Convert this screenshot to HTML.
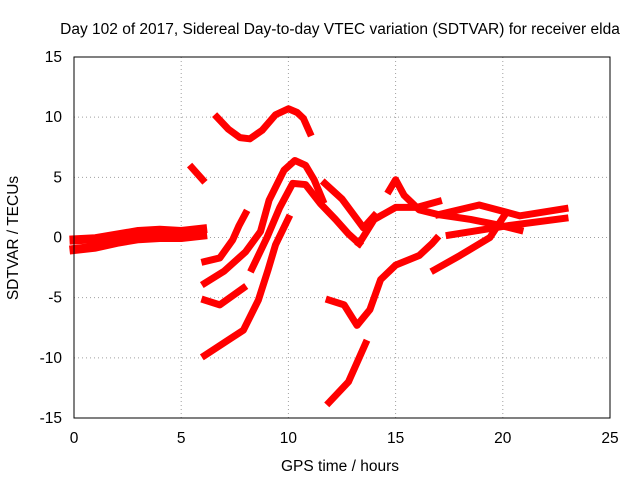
<!DOCTYPE html>
<html><head><meta charset="utf-8"><style>
body{margin:0;background:#fff}
text{font-family:"Liberation Sans",sans-serif;font-size:15.5px;fill:#000}
</style></head><body>
<svg id="chart" width="640" height="480">
<text x="340" y="34" text-anchor="middle">Day 102 of 2017, Sidereal Day-to-day VTEC variation (SDTVAR) for receiver elda</text>
<text x="340" y="471" text-anchor="middle">GPS time / hours</text>
<text transform="translate(18,238) rotate(-90)" text-anchor="middle">SDTVAR / TECUs</text>
<g id="grid"></g><g id="ticks"></g><g id="series"></g>
<rect x="74" y="57" width="536" height="361" fill="none" stroke="#000"/>
</svg>
<script>
const xTicks=[0,5,10,15,20,25];
const yTicks=[-15,-10,-5,0,5,10,15];
const trackA1=[[0,-0.2],[1,-0.1],[2,0.2],[3,0.5],[4,0.6],[5,0.5],[6,0.7]];
const trackA2=[[0,-1],[1,-0.8],[2,-0.4],[3,-0.1],[4,0],[5,0],[6,0.2]];
const trackB=[[5.5,5.8],[6.0,4.8]];
const trackC=[[6.67,10.0],[7.2,9.0],[7.74,8.3],[8.2,8.2],[8.77,8.9],[9.4,10.2],[10,10.7],[10.4,10.4],[10.7,9.9],[11,8.7]];
const trackD=[[6.1,-2.0],[6.8,-1.7],[7.4,-0.2],[7.7,1.0],[8,2.0]];
const trackE=[[6.1,-3.8],[7,-2.8],[8,-1.2],[8.7,0.5],[9.1,3.1],[9.8,5.6],[10.3,6.4],[10.8,6.0],[11.2,4.8],[11.6,3.1]];
const trackF=[[6.1,-5.2],[6.8,-5.6],[7.9,-4.2]];
const trackG=[[6.1,-9.8],[7.3,-8.4],[7.9,-7.7],[8.6,-5.2],[9.05,-2.7],[9.4,-0.6],[10,1.6]];
const trackH=[[8.3,-2.6],[9,0],[9.6,2.5],[10.2,4.5],[10.8,4.4],[11.5,2.8],[12.2,1.5],[12.8,0.3],[13.3,-0.5]];
const trackI=[[11.9,-5.2],[12.6,-5.6],[13.2,-7.3],[13.8,-6],[14.3,-3.5],[15,-2.3],[16.1,-1.5],[16.7,-0.5],[16.9,-0.1]];
const trackJ=[[11.9,-13.7],[12.8,-12],[13.6,-8.8]];
const trackK=[[13.3,-0.5],[14,1.5],[15,2.5],[16,2.5],[17,3.0]];
const trackL=[[14.7,3.9],[15,4.8],[15.4,3.5],[16.1,2.3],[17,1.9],[18.5,1.5],[19.9,1.0],[20.8,0.6]];
const trackM=[[16.8,-2.7],[18,-1.5],[19.4,0],[20.1,1.9]];
const trackN=[[17.5,0.2],[18.9,0.6],[20.3,1.0],[22.9,1.6]];
const trackO=[[17,1.9],[18.9,2.7],[20.8,1.8],[22.9,2.4]];
const trackP=[[11.7,4.5],[12.5,3.2],[13,2.0],[13.5,0.8],[14,1.8]];
const tracks=[trackA1,trackA2,trackB,trackC,trackD,trackE,trackF,trackG,trackH,trackI,trackJ,trackK,trackL,trackM,trackN,trackO,trackP];
const X=t=>74+t*536/25, Y=v=>237.5-v*361/30;
const ns="http://www.w3.org/2000/svg";
const grid=document.getElementById('grid'),tk=document.getElementById('ticks'),sr=document.getElementById('series');
function mk(tag,attrs,parent){const e=document.createElementNS(ns,tag);for(const k in attrs)e.setAttribute(k,attrs[k]);parent.appendChild(e);return e;}
xTicks.forEach(t=>{
 const l=mk('line',{x1:X(t),x2:X(t),y1:57,y2:418,stroke:'#a0a0a0','stroke-dasharray':'1,3'},grid);
 
 
 const s=mk('text',{x:X(t),y:443,'text-anchor':'middle'},tk);s.textContent=t;
 
 
});
yTicks.forEach(v=>{
 const l=mk('line',{x1:74,x2:610,y1:Y(v),y2:Y(v),stroke:'#a0a0a0','stroke-dasharray':'1,3'},grid);
 
 
 const s=mk('text',{x:62,y:Y(v)+5,'text-anchor':'end'},tk);s.textContent=v;
 
 
});
tracks.forEach((tr,i)=>{
 const p=mk('polyline',{points:tr.map(d=>X(d[0])+','+Y(d[1])).join(' '),fill:'none',stroke:'#ff0000','stroke-width':i<2?9:7,'stroke-linejoin':'round','stroke-linecap':'square'},sr);
 
 
});
</script>
</body></html>
